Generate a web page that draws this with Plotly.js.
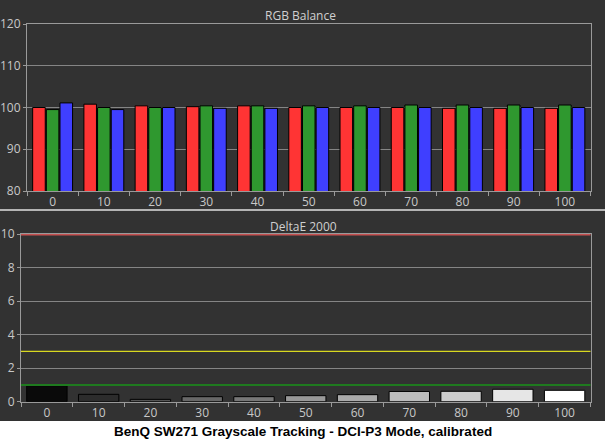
<!DOCTYPE html>
<html><head>
<script src="https://cdn.plot.ly/plotly-3.0.1.min.js"></script>
<style>body{margin:0;background:#fff;}#chart{width:605px;height:441px;}</style>
</head><body><div id="chart"></div>
<script>
// ---- data ----
const levels = ['0','10','20','30','40','50','60','70','80','90','100'];
const redValues   = [100.0, 100.8, 100.4, 100.2, 100.4, 100.0, 100.0, 100.0, 99.8, 99.8, 99.8];
const greenValues = [99.5, 100.0, 100.0, 100.4, 100.4, 100.4, 100.4, 100.6, 100.6, 100.6, 100.6];
const blueValues  = [101.1, 99.5, 100.0, 99.8, 99.8, 100.0, 100.0, 100.0, 100.0, 100.0, 100.0];
const deltaE      = [0.95, 0.44, 0.14, 0.30, 0.30, 0.36, 0.42, 0.61, 0.62, 0.74, 0.68];
const rgbTicks = [80, 90, 100, 110, 120];
const deTicks = [0, 2, 4, 6, 8, 10];
const deThresholds = [10, 3, 1];

// ---- styles ----
const grays = ['#0a0a0a','#2c2c2c','#555555','#686868','#777777','#999999','#aaaaaa','#bbbbbb','#cccccc','#e6e6e6','#ffffff'];
const threshColors = ['#c65050','#d8d820','#1f7a1f'];
const threshWidths = [3, 1.2, 2];
const W = 605, H = 441;
const px = v => v / W;
const py = v => 1 - v / H;
const tickFont = {family: 'Open Sans, DejaVu Sans, sans-serif', size: 12, color: '#c8c8c8'};
const outline = {color: '#000', width: 1};

const traces = [
  {type:'bar', x:levels, y:redValues, xaxis:'x', yaxis:'y', marker:{color:'#ff3434', line:outline}, hoverinfo:'none'},
  {type:'bar', x:levels, y:greenValues, xaxis:'x', yaxis:'y', marker:{color:'#2f982f', line:outline}, hoverinfo:'none'},
  {type:'bar', x:levels, y:blueValues, xaxis:'x', yaxis:'y', marker:{color:'#3f3fff', line:outline}, hoverinfo:'none'},
  {type:'bar', x:levels, y:deltaE, xaxis:'x2', yaxis:'y2', width:0.78, marker:{color:grays, line:outline}, hoverinfo:'none'}
];

const axBase = {
  showline:true, mirror:true, linecolor:'#9a9a9a', linewidth:1,
  ticks:'outside', ticklen:4, tickcolor:'#9a9a9a', tickfont:tickFont,
  zeroline:false, fixedrange:true
};

const shapes = [
  {type:'rect', xref:'paper', yref:'paper', x0:0, x1:1, y0:py(421), y1:1, fillcolor:'#323232', line:{width:0}, layer:'below'},
  {type:'line', xref:'paper', yref:'paper', x0:0, x1:1, y0:py(210), y1:py(210), line:{color:'#e0e0e0', width:1.5}, layer:'below'}
];
deThresholds.forEach((v,i)=>{
  shapes.push({type:'line', xref:'x2 domain', yref:'y2', x0:0, x1:1, y0:v, y1:v, line:{color:threshColors[i], width:threshWidths[i]}});
});

const layout = {
  width:W, height:H, margin:{l:0,r:0,t:0,b:0},
  paper_bgcolor:'#ffffff', plot_bgcolor:'#222222',
  showlegend:false, barmode:'group', bargap:0.2, bargroupgap:0.08,
  xaxis: Object.assign({}, axBase, {domain:[px(27), px(590.5)], anchor:'y', type:'category', tickson:'boundaries', showgrid:false}),
  yaxis: Object.assign({}, axBase, {domain:[py(191), py(24)], anchor:'x', range:[80,120], tickvals:rgbTicks, ticklen:3, showgrid:true, gridcolor:'#858585', gridwidth:1}),
  xaxis2: Object.assign({}, axBase, {domain:[px(21), px(590.5)], anchor:'y2', type:'category', tickson:'boundaries', showgrid:false}),
  yaxis2: Object.assign({}, axBase, {domain:[py(401.7), py(234)], anchor:'x2', range:[0,10], tickvals:deTicks, ticklen:3, showgrid:true, gridcolor:'#858585', gridwidth:1}),
  shapes: shapes,
  annotations: [
    {text:'RGB Balance', xref:'paper', yref:'paper', x:px(300), y:py(15), xanchor:'center', yanchor:'middle', showarrow:false, font:{family:'Open Sans, DejaVu Sans, sans-serif', size:12, color:'#d0d0d0'}},
    {text:'DeltaE 2000', xref:'paper', yref:'paper', x:px(303), y:py(226), xanchor:'center', yanchor:'middle', showarrow:false, font:{family:'Open Sans, DejaVu Sans, sans-serif', size:12, color:'#d0d0d0'}},
    {text:'<b>BenQ SW271 Grayscale Tracking - DCI-P3 Mode, calibrated</b>', xref:'paper', yref:'paper', x:px(303), y:py(431), xanchor:'center', yanchor:'middle', showarrow:false, font:{family:'Liberation Sans, Arial, sans-serif', size:13.5, color:'#000'}}
  ]
};

Plotly.newPlot('chart', traces, layout, {staticPlot:true, displayModeBar:false});
</script>
</body></html>
